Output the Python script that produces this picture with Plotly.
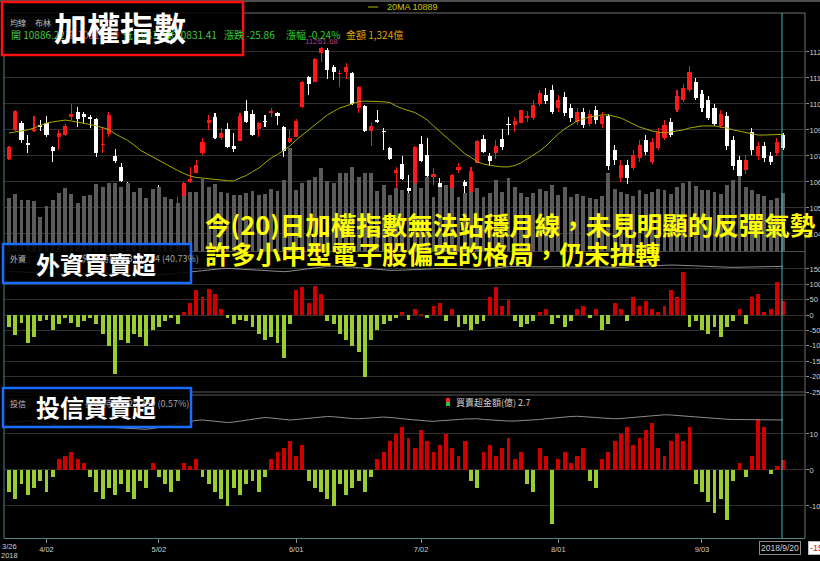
import plotly.graph_objects as go

# ---------------- data ----------------
trading_days = {
    3: [23, 26, 27, 28, 29, 30],
    4: [2, 3, 9, 10, 11, 12, 13, 16, 17, 18, 19, 20, 23, 24, 25, 26, 27, 30],
    5: [2, 3, 4, 7, 8, 9, 10, 11, 14, 15, 16, 17, 18, 21, 22, 23, 24, 25, 28, 29, 30, 31],
    6: [1, 4, 5, 6, 7, 8, 11, 12, 13, 14, 15, 19, 20, 21, 22, 25, 26, 27, 28, 29],
    7: [2, 3, 4, 5, 6, 9, 10, 11, 12, 13, 16, 17, 18, 19, 20, 23, 24, 25, 26, 27, 30, 31],
    8: [1, 2, 3, 6, 7, 8, 9, 10, 13, 14, 15, 16, 17, 20, 21, 22, 23, 24, 27, 28, 29, 30, 31],
    9: [3, 4, 5, 6, 7, 10, 11, 12, 13, 14, 17, 18, 19, 20],
}
dates = [f"2018-{m:02d}-{d:02d}" for m, days in trading_days.items() for d in days]

opens = [10784, 10908, 10937, 10852, 10903, 10929, 10937, 10835, 10878, 10886,
         10963, 10984, 10976, 10963, 10955, 10844, 10890, 10797, 10750, 10677,
         10536, 10574, 10536, 10545, 10660, 10570, 10506, 10574, 10604, 10685,
         10724, 10809, 10937, 10963, 10873, 10912, 10839, 10861, 10989, 10976,
         10912, 10946, 10980, 10980, 10920, 10856, 10878, 11006, 11134, 11112,
         11236, 11249, 11177, 11147, 11155, 11151, 11002, 11010, 10903, 10950,
         10903, 10831, 10724, 10762, 10660, 10664, 10848, 10801, 10707, 10681,
         10639, 10634, 10737, 10685, 10639, 10767, 10869, 10797, 10809, 10869,
         10933, 10929, 10937, 10959,
         10959, 11019, 11057, 11079, 11002, 11049, 11002, 10942, 10985, 10934,
         10993, 10934, 10968, 10823, 10703, 10758, 10746, 10788, 10865, 10771,
         10831, 10874, 10942, 10993, 11036, 11079, 11113, 11062, 11036, 11002,
         10925, 10968, 10865, 10780, 10737, 10899, 10797, 10840, 10797, 10810, 10887]
closes = [10835, 10989, 10865, 10844, 10912, 10920, 10886, 10818, 10895, 10925,
          10976, 10955, 10963, 10955, 10809, 10848, 10972, 10775, 10690, 10574,
          10553, 10481, 10545, 10651, 10613, 10506, 10519, 10596, 10681, 10698,
          10758, 10856, 10950, 10873, 10895, 10835, 10826, 10967, 10942, 10886,
          10937, 10942, 10989, 10967, 10818, 10873, 10946, 11112, 11104, 11211,
          11258, 11164, 11155, 11151, 11177, 11019, 11091, 10903, 10925, 10942,
          10899, 10784, 10737, 10698, 10647, 10835, 10775, 10711, 10720, 10600,
          10600, 10716, 10750, 10668, 10733, 10861, 10814, 10775, 10839, 10835,
          10929, 10946, 10993, 10967,
          11015, 11066, 11032, 10985, 11036, 10980, 10959, 10985, 10929, 10976,
          10951, 10968, 10754, 10780, 10758, 10703, 10801, 10844, 10814, 10857,
          10899, 10929, 10887, 11053, 11087, 11156, 11045, 11002, 10959, 10934,
          10976, 10840, 10754, 10711, 10780, 10823, 10840, 10788, 10771, 10857, 10831.41]
highs = [10839, 10993, 10946, 10886, 10967, 10950, 10967, 10839, 10908, 10933,
         11019, 11006, 10984, 10972, 10959, 10920, 10984, 10826, 10767, 10685,
         10574, 10579, 10579, 10656, 10673, 10574, 10557, 10621, 10685, 10750,
         10779, 10873, 10972, 10980, 10916, 10937, 10895, 10980, 11036, 10993,
         10942, 10972, 11002, 10984, 10925, 10908, 10955, 11117, 11138, 11215,
         11261.68, 11258, 11185, 11164, 11194, 11155, 11095, 11014, 10942, 10993,
         10916, 10835, 10750, 10797, 10716, 10839, 10882, 10873, 10745, 10703,
         10673, 10720, 10767, 10694, 10750, 10865, 10886, 10809, 10865, 10912,
         10963, 10963, 10993, 10989,
         11036, 11079, 11087, 11100, 11057, 11070, 11019, 11002, 11002, 10993,
         11010, 10985, 10976, 10844, 10780, 10780, 10823, 10865, 10887, 10874,
         10917, 10951, 10959, 11079, 11104, 11181, 11130, 11079, 11053, 11019,
         10993, 10985, 10882, 10797, 10801, 10917, 10857, 10857, 10814, 10874, 10895]
lows = [10779, 10903, 10852, 10809, 10899, 10903, 10878, 10771, 10822, 10882,
        10950, 10920, 10937, 10916, 10792, 10809, 10878, 10767, 10685, 10532,
        10472, 10468, 10472, 10536, 10596, 10493, 10502, 10553, 10600, 10681,
        10724, 10801, 10908, 10869, 10865, 10831, 10814, 10861, 10937, 10882,
        10878, 10920, 10963, 10929, 10792, 10852, 10878, 11002, 11057, 11112,
        11198, 11125, 11121, 11091, 11125, 11014, 10980, 10899, 10839, 10937,
        10822, 10779, 10660, 10694, 10621, 10660, 10771, 10703, 10673, 10579,
        10579, 10630, 10724, 10626, 10639, 10767, 10809, 10754, 10784, 10822,
        10886, 10899, 10937, 10942,
        10951, 11010, 11019, 10976, 10985, 10968, 10942, 10929, 10917, 10925,
        10934, 10917, 10737, 10758, 10686, 10677, 10737, 10771, 10801, 10763,
        10823, 10865, 10878, 10985, 11027, 11070, 11036, 10985, 10951, 10925,
        10917, 10823, 10737, 10660, 10720, 10801, 10780, 10771, 10758, 10797, 10823]
ma20 = [10895, 10899, 10903, 10908, 10916, 10925, 10937, 10942, 10946, 10950,
        10946, 10942, 10935, 10931, 10925, 10918, 10910, 10891, 10878, 10863,
        10844, 10822, 10807, 10792, 10777, 10762, 10747, 10735, 10722, 10711,
        10705, 10703, 10699, 10697, 10694, 10691, 10690, 10703, 10713, 10730,
        10745, 10767, 10788, 10803, 10820, 10839, 10865, 10886, 10908, 10929,
        10950, 10972, 10987, 11002, 11010, 11019, 11029, 11031, 11031, 11030,
        11028, 11025, 11010, 10999, 10991, 10982, 10967, 10950, 10925, 10901,
        10878, 10854, 10831, 10807, 10790, 10773, 10762, 10756, 10753, 10750,
        10750, 10756, 10767, 10784, 10801, 10818, 10839, 10865, 10891, 10912,
        10929, 10946, 10955, 10963, 10967, 10972, 10972, 10967, 10959, 10946,
        10933, 10920, 10912, 10903, 10899, 10895, 10899, 10903, 10908, 10916,
        10920, 10925, 10925, 10925, 10920, 10916, 10908, 10903, 10895, 10891,
        10886, 10886, 10886, 10887, 10889]
volume = [1208, 1300, 1163, 1163, 1140, 775, 1026, 1163, 1322, 1436,
          1300, 1094, 1254, 1277, 1528, 1459, 1550, 1550, 1459, 1550,
          1345, 1436, 1208, 1414, 1459, 1231, 1186, 1094, 1254, 1345,
          1345, 1642, 1459, 1528, 1345, 1322, 1277, 1277, 1322, 1368,
          1277, 1300, 1414, 1368, 1619, 2348, 1391, 1550, 1619, 1687,
          1892, 1596, 1550, 1778, 1778, 1915, 1687, 1778, 1778, 1368,
          1505, 1277, 1436, 1391, 1322, 1550, 1436, 1687, 1231, 1459,
          1505, 1436, 1231, 1322, 1345, 1436, 1231, 1322, 1619, 1345,
          1664, 1459, 1322, 1231,
          1320, 1410, 1365, 1500, 1280, 1450, 1230, 1300, 1260, 1210,
          1180, 1250, 1780, 1420, 1350, 1300, 1260, 1390, 1300, 1350,
          1420, 1380, 1300, 1460, 1550, 1600, 1480, 1400, 1380, 1350,
          1300, 1500, 1620, 1700, 1450, 1380, 1300, 1250, 1163, 1208, 1324]
foreign = [-40, -65, -25, -90, -70, -20, -15, -50, -30, -10,
           -25, -40, -20, -10, -30, -60, -100, -190, -80, -90,
           -60, -70, -100, -50, -40, -20, -10, -30, 10, 40,
           80, 60, 85, 70, 20, -10, -30, -15, -20, -40,
           -60, -80, -70, -90, -140, -30, 80, 90, 40, 95,
           70, -20, -30, -60, -80, -100, -120, -200, -80, -50,
           -30, -20, -10, 10, -15, 20, 5, -10, 30, 40,
           -20, 20, -40, -30, -50, -30, -20, 60, 90, 30,
           50, -20, -40, -30, -20, 10, 20, -30, -10, -40,
           -20, 20, 30, -10, 20, -50, -30, 40, 20, -20,
           60, 30, 45, 20, 10, 30, 80, 60, 140, -40,
           -20, -50, -60, -40, -70, -40, -20, 20, -30, 60,
           70, 10, 20, 107, 46]
foreign_hold = [40.45, 40.42, 40.40, 40.38, 40.36, 40.35, 40.33, 40.32, 40.30, 40.30,
                40.31, 40.33, 40.34, 40.36, 40.35, 40.33, 40.30, 40.27, 40.24, 40.22,
                40.20, 40.19, 40.18, 40.20, 40.22, 40.25, 40.28, 40.32, 40.36, 40.40,
                40.45, 40.50, 40.55, 40.58, 40.60, 40.62, 40.60, 40.58, 40.55, 40.52,
                40.50, 40.48, 40.46, 40.44, 40.42, 40.45, 40.50, 40.56, 40.62, 40.68,
                40.72, 40.74, 40.75, 40.74, 40.72, 40.70, 40.66, 40.62, 40.58, 40.55,
                40.52, 40.50, 40.50, 40.52, 40.54, 40.56, 40.58, 40.60, 40.62, 40.63,
                40.62, 40.60, 40.58, 40.56, 40.55, 40.56, 40.58, 40.62, 40.66, 40.70,
                40.72, 40.73, 40.72, 40.70, 40.69, 40.70, 40.71, 40.72, 40.71, 40.70,
                40.69, 40.70, 40.72, 40.73, 40.72, 40.70, 40.68, 40.67, 40.68, 40.70,
                40.72, 40.74, 40.76, 40.78, 40.79, 40.80, 40.82, 40.81, 40.79, 40.78,
                40.77, 40.75, 40.73, 40.71, 40.70, 40.69, 40.68, 40.69, 40.70, 40.71,
                40.72, 40.73, 40.74, 40.74, 40.74]
trust = [-6, -8, -4, -7, -5, -3, -6, -2, 3, 4,
         5, 3, 2, -2, -6, -8, -5, -7, -4, -6,
         -8, -3, -5, 2, -2, -4, -6, -3, 2, 1,
         3, -2, -4, -6, -8, -10, -5, -7, -4, -3,
         -6, -2, 3, 5, 6, 8, 4, 7, -3, -5,
         -6, -8, -10, -4, -7, -5, -3, -6, -2, 3,
         5, 8, 10, 12, 9, 6, 11, 8, 5, 7,
         10, 6, 4, 8, -3, -5, 5, 7, 4, 6,
         9, 3, 5, -4, -6, 6, 4, -15, 3, 5,
         2, 4, 6, -3, -5, 3, 5, 8, 10, 12,
         7, 9, 11, 13, 6, 4, 8, 10, 8, 12,
         -4, -6, -9, -12, -8, -14, -3, 2, -2, 4,
         14, 12, -1, 1, 2.7]
trust_hold = [0.560, 0.562, 0.565, 0.566, 0.564, 0.560, 0.556, 0.552, 0.548, 0.545,
              0.544, 0.546, 0.550, 0.552, 0.550, 0.546, 0.542, 0.540, 0.538, 0.536,
              0.534, 0.532, 0.533, 0.536, 0.540, 0.545, 0.550, 0.555, 0.560, 0.565,
              0.568, 0.570, 0.568, 0.565, 0.562, 0.560, 0.562, 0.566, 0.570, 0.574,
              0.578, 0.580, 0.578, 0.575, 0.572, 0.570, 0.572, 0.575, 0.578, 0.580,
              0.582, 0.584, 0.583, 0.580, 0.578, 0.576, 0.575, 0.576, 0.578, 0.580,
              0.582, 0.581, 0.578, 0.575, 0.572, 0.570, 0.568, 0.566, 0.565, 0.566,
              0.568, 0.570, 0.572, 0.574, 0.576, 0.575, 0.572, 0.570, 0.568, 0.567,
              0.566, 0.566, 0.567, 0.568, 0.570, 0.572, 0.575, 0.578, 0.580, 0.582,
              0.584, 0.585, 0.584, 0.582, 0.580, 0.578, 0.576, 0.575, 0.576, 0.578,
              0.580, 0.583, 0.586, 0.588, 0.590, 0.591, 0.590, 0.588, 0.585, 0.582,
              0.580, 0.578, 0.576, 0.575, 0.574, 0.573, 0.572, 0.572, 0.572, 0.572,
              0.571, 0.571, 0.570, 0.570, 0.570]

price_ticks = [11241, 11130, 11019, 10908, 10797, 10686, 10575, 10464]
foreign_ticks = [150, 100, 50, 0, -50, -100, -150, -200, -250]
trust_ticks = [10, 0, -10]
date_tick_idx = [6, 24, 46, 66, 88, 111]
date_tick_text = ["4/02", "5/02", "6/01", "7/02", "8/01", "9/03"]

# ---------------- styling helpers ----------------
W, H = 820, 561
L, R, T, B = 4, 15, 13, 23
PW, PH = W - L - R, H - T - B


def px_x(px):
    return (px - L) / PW


def px_y(py):
    return (H - B - py) / PH


RED = "#ff1a1a"
WHITE = "#ffffff"
BAR_RED = "#d00000"
BAR_GREEN = "#9acd32"
AX_TXT = dict(family="Liberation Sans, Noto Sans", size=7.5, color="#cfcfcf")

candle_col = [RED if c >= o else WHITE for o, c in zip(opens, closes)]
body_base = [min(o, c) for o, c in zip(opens, closes)]
body_h = [max(abs(c - o), 4) for o, c in zip(opens, closes)]
wick_h = [h - l for h, l in zip(highs, lows)]

fig = go.Figure()
fig.add_trace(go.Bar(x=dates, y=volume, width=0.62, marker=dict(color="#5b5b5b", line_width=0), yaxis="y2"))
fig.add_trace(go.Bar(x=dates, y=wick_h, base=lows, width=0.17, marker=dict(color=candle_col, line_width=0), yaxis="y"))
fig.add_trace(go.Bar(x=dates, y=body_h, base=body_base, width=0.66, marker=dict(color=candle_col, line_width=0), yaxis="y"))
fig.add_trace(go.Scatter(x=dates, y=ma20, mode="lines", line=dict(color="#a9a800", width=1), yaxis="y"))
fig.add_trace(go.Bar(x=dates, y=foreign, width=0.62,
                     marker=dict(color=[BAR_RED if v > 0 else BAR_GREEN for v in foreign], line_width=0), yaxis="y3"))
fig.add_trace(go.Scatter(x=dates, y=foreign_hold, mode="lines", line=dict(color="#8c8c8c", width=1), yaxis="y4"))
fig.add_trace(go.Bar(x=dates, y=trust, width=0.62,
                     marker=dict(color=[BAR_RED if v > 0 else BAR_GREEN for v in trust], line_width=0), yaxis="y5"))
fig.add_trace(go.Scatter(x=dates, y=trust_hold, mode="lines", line=dict(color="#8c8c8c", width=1), yaxis="y6"))

top_dom = [px_y(251), 1]
mid_dom = [px_y(392), px_y(252)]
bot_dom = [0, px_y(395)]

yax_common = dict(side="right", showline=False, zeroline=False, ticks="outside", ticklen=3,
                  tickcolor="#8a8a8a", tickfont=AX_TXT, gridcolor="#303030", gridwidth=1,
                  fixedrange=True, anchor="x", automargin=False, ticklabelstandoff=-1)

fig.update_layout(
    width=W, height=H, margin=dict(l=L, r=R, t=T, b=B, pad=0, autoexpand=False),
    paper_bgcolor="black", plot_bgcolor="black", showlegend=False, hovermode=False,
    barmode="overlay", bargap=0,
    xaxis=dict(type="category", categoryorder="array", categoryarray=dates,
               range=[-0.8, 127.5], domain=[0, 1], anchor="y5", showgrid=False, automargin=False,
               showline=True, linecolor="#4f8585", linewidth=1, ticks="outside", ticklen=4,
               tickcolor="#8a8a8a", tickvals=[dates[i] for i in date_tick_idx], ticktext=date_tick_text,
               tickfont=AX_TXT, zeroline=False, fixedrange=True),
    yaxis=dict(domain=top_dom, range=[10391, 11407], tickvals=price_ticks,
               ticktext=[str(v) for v in price_ticks], **yax_common),
    yaxis2=dict(domain=top_dom, overlaying="y", range=[0, 5426], visible=False, anchor="x", automargin=False),
    yaxis3=dict(domain=mid_dom, range=[-250, 205], tickvals=foreign_ticks,
                ticktext=[str(v) for v in foreign_ticks], **yax_common),
    yaxis4=dict(domain=mid_dom, overlaying="y3", range=[33.2, 41.6], visible=False, anchor="x", automargin=False),
    yaxis5=dict(domain=bot_dom, range=[-18.9, 20.8], tickvals=trust_ticks,
                ticktext=[str(v) for v in trust_ticks], **yax_common),
    yaxis6=dict(domain=bot_dom, overlaying="y5", range=[0.098, 0.67], visible=False, anchor="x", automargin=False),
)

shapes = []


def hline(py, x0=4, x1=805, color="#6a6a6a", w=1):
    shapes.append(dict(type="line", xref="paper", yref="paper", x0=px_x(x0), x1=px_x(x1),
                       y0=px_y(py), y1=px_y(py), line=dict(color=color, width=w), layer="above"))


def vline(px, y0, y1, color="#6a6a6a", w=1):
    shapes.append(dict(type="line", xref="paper", yref="paper", x0=px_x(px), x1=px_x(px),
                       y0=px_y(y0), y1=px_y(y1), line=dict(color=color, width=w), layer="above"))


def box(x0, y0, x1, y1, color, w, fill):
    shapes.append(dict(type="rect", xref="paper", yref="paper", x0=px_x(x0), x1=px_x(x1),
                       y0=px_y(y0), y1=px_y(y1), line=dict(color=color, width=w), fillcolor=fill,
                       layer="above"))


hline(1, 0, 820, "#9a9a9a")
hline(13, 4, 805, "#707070")
hline(251.5, 4, 805, "#4a4a4a")
hline(392, 4, 805, "#5a5a5a")
hline(395, 4, 805, "#5a5a5a")
vline(805, 13, 538, "#707070")
vline(4, 13, 538, "#4f8585")
vline(782, 13, 538, "#49b3b3")

fig_ann = []


def text(px, py, s, size=10, color="#cfcfcf", xanchor="left", bold=False, family="Noto Sans CJK TC",
         bg=None, border=None):
    fig_ann.append(dict(xref="paper", yref="paper", x=px_x(px), y=px_y(py), text=("<b>%s</b>" % s) if bold else s,
                        showarrow=False, xanchor=xanchor, yanchor="middle",
                        font=dict(size=size, color=color, family=family),
                        bgcolor=bg, bordercolor=border, borderwidth=1 if border else 0, borderpad=1))


# small header items (partly covered by the title boxes)
box(7, 17, 30, 28, "#555555", 1, "#2a2a2a")
box(32, 17, 52, 28, "#555555", 1, "#2a2a2a")
text(9, 22.5, "均線", 8, "#bdbdbd")
text(34, 22.5, "布林", 8, "#bdbdbd")
text(10, 34, "開 10886.22", 10, "#46c846")
text(64, 34, "高 10911.09", 10, "#e04040")
text(122, 34, "低 10817.76", 10, "#46c846")
text(218, 34, "收 10831.41", 10, "#46c846", "right")
text(223, 34, "漲跌 -25.86", 10, "#2fd02f")
text(285, 34, "漲幅 -0.24%", 10, "#2fd02f")
text(345, 34, "金額 1,324億", 10, "#e7a100")
text(304, 41, "11261.68", 8, "#b03a8c", family="Liberation Sans")
shapes.append(dict(type="line", xref="paper", yref="paper", x0=px_x(368), x1=px_x(378), y0=px_y(7), y1=px_y(7),
                   line=dict(color="#b9b900", width=1)))
text(386, 7, "20MA 10889", 9, "#c9c900", family="Liberation Sans")

box(7, 254, 30, 263, "#555555", 1, "#2a2a2a")
text(9, 258.5, "外資", 8, "#bdbdbd")
text(200, 258, "外資持股 2,315,184 (40.73%)", 9, "#a0a0a0", "right")
box(7, 399, 30, 408, "#555555", 1, "#2a2a2a")
text(9, 403.5, "投信", 8, "#bdbdbd")
text(190, 403, "投信持股 125,330 (0.57%)", 9, "#a0a0a0", "right")
shapes.append(dict(type="rect", xref="paper", yref="paper", x0=px_x(446), x1=px_x(450), y0=px_y(398),
                   y1=px_y(402), line_width=0, fillcolor="#ff2020"))
shapes.append(dict(type="rect", xref="paper", yref="paper", x0=px_x(446), x1=px_x(450), y0=px_y(402),
                   y1=px_y(406), line_width=0, fillcolor="#30c030"))
text(455, 402, "買賣超金額(億) 2.7", 9, "#cfcfcf")

# title boxes (semi transparent)
box(2, 2, 243, 55, "#ff1010", 2.5, "rgba(0,0,0,0.86)")
box(3, 244, 191, 283, "#1a6cff", 2.5, "rgba(0,0,0,0.86)")
box(3, 388, 191, 427, "#1a6cff", 2.5, "rgba(0,0,0,0.86)")
text(120, 27, "加權指數", 33, "#ffffff", "center", True)
text(96, 263, "外資買賣超", 24, "#ffffff", "center", True)
text(96, 406, "投信買賣超", 24, "#ffffff", "center", True)

# commentary
text(204, 223, "今(20)日加權指數無法站穩月線，未見明顯的反彈氣勢", 25.5, "#ffff00", "left", True)
text(204, 253, "許多小中型電子股偏空的格局，仍未扭轉", 25.3, "#ffff00", "left", True)

# x axis extras
text(9, 546, "3/26", 7.5, "#cfcfcf", "center", family="Liberation Sans")
text(9, 555, "2018", 7.5, "#cfcfcf", "center", family="Liberation Sans")
text(780, 547.5, "2018/9/20", 8.5, "#cfcfcf", "center", family="Liberation Sans", bg="black", border="#8a8a8a")
text(808, 548, "-15.32", 9, "#e01010", "left", family="Liberation Sans", bg="white", border="#bbbbbb")

fig.update_layout(shapes=shapes, annotations=fig_ann)
fig.write_html("out.html", config={"displayModeBar": False, "staticPlot": True},
               post_script="document.body.style.margin='0';document.body.style.overflow='hidden';")
